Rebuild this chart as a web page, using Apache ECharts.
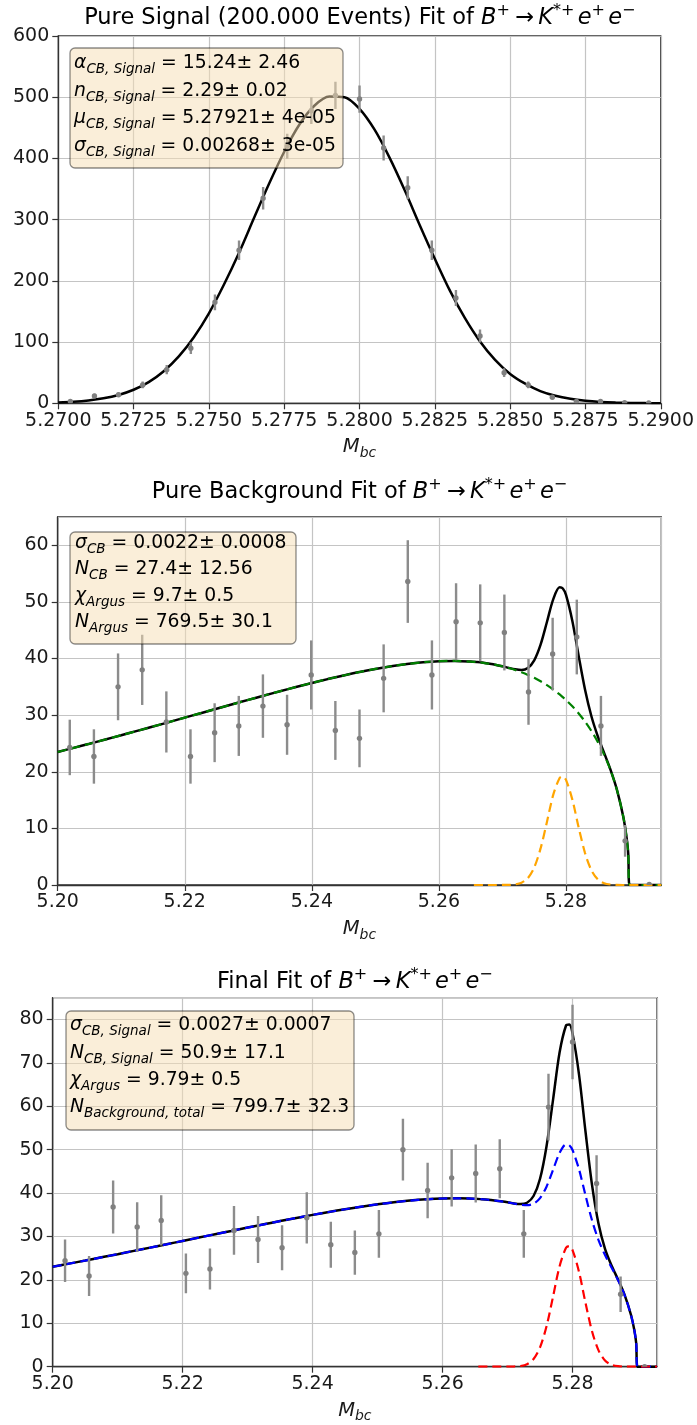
<!DOCTYPE html>
<html><head><meta charset="utf-8">
<script src="https://cdn.jsdelivr.net/npm/echarts@6/dist/echarts.min.js"></script>
<style>html,body{margin:0;padding:0;background:#fff}#c{width:697px;height:1425px}</style>
</head><body><div id="c"></div>
<script>
// ---------- Chart 1: pure signal ----------
const sigX = [5.2704,5.2712,5.2720,5.2728,5.2736,5.2744,5.2752,5.2760,5.2768,5.2776,5.2784,5.2792,5.2800,5.2808,5.2816,5.2824,5.2832,5.2840,5.2848,5.2856,5.2864,5.2872,5.2880,5.2888,5.2896];
const sigY = [3,12,14,30,55,90,165,250,335,420,478,503,497,417,352,250,172,110,50,30,10,3,3,1,0.5];
const sigErr = [1.7,3.5,3.7,5.5,7.4,9.5,12.8,15.8,18.3,20.5,21.9,22.4,22.3,20.4,18.8,15.8,13.1,10.5,7.1,5.5,3.2,1.7,1.7,1.0,0.7];
const sigFitX = [5.2700,5.2705,5.2710,5.2715,5.2720,5.2725,5.2730,5.2735,5.2740,5.2745,5.2750,5.2755,5.2760,5.2765,5.2770,5.2775,5.2780,5.2785,5.2790,5.2795,5.2800,5.2805,5.2810,5.2815,5.2820,5.2825,5.2830,5.2835,5.2840,5.2845,5.2850,5.2855,5.2860,5.2865,5.2870,5.2875,5.2880,5.2885,5.2890,5.2895,5.2900];
const sigFitY = [1.4,2.6,4.7,8.1,13.6,22.1,34.6,52.4,76.6,108,147,194,246,303,359,411,455,486,501,500,481,447,401,348,291,236,184,139,101,71,48,32,20,12.3,7.3,4.2,2.3,1.2,0.6,0.3,0.15];
const sigXTicks = {min:5.2700, max:5.2900, step:0.0025};
const sigYTicks = {min:0, max:600, step:100};

// ---------- Chart 2: pure background ----------
const bkgX = [5.2019,5.2057,5.2095,5.2133,5.2171,5.2209,5.2247,5.2285,5.2323,5.2361,5.2399,5.2437,5.2475,5.2513,5.2551,5.2589,5.2627,5.2665,5.2703,5.2741,5.2779,5.2817,5.2855,5.2893,5.2931];
const bkgY = [24.3,22.7,35.0,38.0,28.8,22.7,26.9,28.1,31.6,28.3,37.1,27.3,25.9,36.5,53.6,37.1,46.5,46.3,44.6,34.1,40.8,43.8,28.1,7.8,0.1];
const bkgErr = [4.9,4.8,5.9,6.2,5.4,4.8,5.2,5.3,5.6,5.3,6.1,5.2,5.1,6.0,7.3,6.1,6.8,6.8,6.7,5.8,6.4,6.6,5.3,2.8,0.3];
const bkgFitX = [5.2000,5.2025,5.2050,5.2075,5.2100,5.2125,5.2150,5.2175,5.2200,5.2225,5.2250,5.2275,5.2300,5.2325,5.2350,5.2375,5.2400,5.2425,5.2450,5.2475,5.2500,5.2525,5.2550,5.2575,5.2600,5.2625,5.2650,5.2660,5.2670,5.2680,5.2690,5.2700,5.2710,5.2720,5.2730,5.2740,5.2750,5.2760,5.2770,5.2780,5.2790,5.2795,5.2800,5.2810,5.2820,5.2830,5.2840,5.2850,5.2860,5.2870,5.2880,5.2890,5.2895,5.2898,5.2900,5.2950];
const bkgArgus = [23.50,24.22,24.95,25.70,26.45,27.22,27.99,28.77,29.56,30.35,31.14,31.92,32.70,33.47,34.23,34.97,35.68,36.37,37.01,37.62,38.16,38.64,39.04,39.34,39.53,39.58,39.47,39.37,39.24,39.07,38.87,38.62,38.32,37.98,37.57,37.11,36.59,35.99,35.31,34.53,33.66,33.18,32.68,31.57,30.30,28.86,27.20,25.28,23.02,20.31,16.88,12.15,8.67,5.51,0,0];
const bkgTotal = [23.50,24.22,24.95,25.70,26.45,27.22,27.99,28.77,29.56,30.35,31.14,31.92,32.70,33.47,34.23,34.97,35.68,36.37,37.01,37.62,38.16,38.64,39.04,39.34,39.53,39.58,39.47,39.37,39.24,39.07,38.87,38.63,38.34,38.09,37.97,38.33,39.68,42.45,46.45,50.49,52.57,52.37,51.24,46.65,40.43,34.50,29.80,26.27,23.33,20.39,16.90,12.15,8.67,5.51,0,0];
const bkgCbX = [5.2655,5.2670,5.2680,5.2690,5.2700,5.2710,5.2720,5.2730,5.2740,5.2750,5.2760,5.2770,5.2780,5.2790,5.2795,5.2800,5.2810,5.2820,5.2830,5.2840,5.2850,5.2860,5.2870,5.2880,5.2890,5.2950];
const bkgCbY = [0,0,0,0,0.01,0.02,0.11,0.40,1.22,3.09,6.46,11.14,15.96,18.91,19.19,18.56,15.08,10.13,5.64,2.60,0.99,0.31,0.08,0.02,0,0];
const bkgXTicks = {min:5.20, max:5.295, step:0.02};
const bkgYTicks = {min:0, max:65, step:10};

// ---------- Chart 3: final fit ----------
const finX = [5.2019,5.2056,5.2093,5.2130,5.2167,5.2205,5.2242,5.2279,5.2316,5.2353,5.2391,5.2428,5.2465,5.2502,5.2539,5.2577,5.2614,5.2651,5.2688,5.2725,5.2763,5.2800,5.2837,5.2874,5.2911];
const finY = [24.4,20.9,36.8,32.2,33.7,21.5,22.5,31.4,29.3,27.4,34.3,28.1,26.3,30.6,50.0,40.6,43.5,44.5,45.6,30.6,59.8,74.8,42.2,16.7,0];
const finErr = [4.9,4.6,6.1,5.7,5.8,4.6,4.7,5.6,5.4,5.2,5.9,5.3,5.1,5.5,7.1,6.4,6.6,6.7,6.8,5.5,7.7,8.6,6.5,4.1,0];
const finFitX = [5.2000,5.2025,5.2050,5.2075,5.2100,5.2125,5.2150,5.2175,5.2200,5.2225,5.2250,5.2275,5.2300,5.2325,5.2350,5.2375,5.2400,5.2425,5.2450,5.2475,5.2500,5.2525,5.2550,5.2575,5.2600,5.2625,5.2650,5.2660,5.2670,5.2680,5.2690,5.2700,5.2710,5.2720,5.2730,5.2740,5.2750,5.2760,5.2770,5.2780,5.2790,5.2795,5.2800,5.2810,5.2820,5.2830,5.2840,5.2850,5.2860,5.2870,5.2880,5.2890,5.2895,5.2898,5.2900,5.2930];
const finBkg = [23.03,23.74,24.45,25.19,25.92,26.68,27.43,28.19,28.97,29.74,30.52,31.28,32.05,32.80,33.55,34.27,34.97,35.64,36.27,36.87,37.40,37.87,38.26,38.55,38.74,38.79,38.68,38.58,38.46,38.29,38.09,37.86,37.57,37.32,37.20,37.55,38.83,41.47,45.34,49.22,51.21,51.01,49.91,45.46,39.45,33.72,29.16,25.72,22.86,19.98,16.56,11.91,8.50,5.40,0,0];
const finTotal = [23.03,23.74,24.45,25.19,25.92,26.68,27.43,28.19,28.97,29.74,30.52,31.28,32.05,32.80,33.55,34.27,34.97,35.64,36.27,36.87,37.40,37.87,38.26,38.55,38.74,38.79,38.68,38.58,38.46,38.29,38.09,37.87,37.61,37.48,37.78,39.32,43.29,50.79,61.47,72.32,78.59,78.80,76.78,67.29,54.12,41.89,32.92,27.15,23.31,20.10,16.59,11.91,8.50,5.40,0,0];
const finSigX = [5.2655,5.2670,5.2680,5.2690,5.2700,5.2710,5.2720,5.2730,5.2740,5.2750,5.2760,5.2770,5.2780,5.2790,5.2795,5.2800,5.2810,5.2820,5.2830,5.2840,5.2850,5.2860,5.2870,5.2880,5.2890,5.2930];
const finSigY = [0,0,0,0,0.01,0.04,0.16,0.58,1.77,4.46,9.32,16.13,23.10,27.38,27.79,26.87,21.83,14.67,8.17,3.76,1.43,0.45,0.12,0.03,0,0];
const finXTicks = {min:5.20, max:5.293, step:0.02};
const finYTicks = {min:0, max:85, step:10};

// ---------- text ----------
const titles = ['Pure Signal (200.000 Events) Fit of ', 'Pure Background Fit of ', 'Final Fit of '];
const boxLines = [
  [['α','CB, Signal',' = 15.24± 2.46'],['n','CB, Signal',' = 2.29± 0.02'],['μ','CB, Signal',' = 5.27921± 4e-05'],['σ','CB, Signal',' = 0.00268± 3e-05']],
  [['σ','CB',' = 0.0022± 0.0008'],['N','CB',' = 27.4± 12.56'],['χ','Argus',' = 9.7± 0.5'],['N','Argus',' = 769.5± 30.1']],
  [['σ','CB, Signal',' = 0.0027± 0.0007'],['N','CB, Signal',' = 50.9± 17.1'],['χ','Argus',' = 9.79± 0.5'],['N','Background, total',' = 799.7± 32.3']]
];

// ---------- layout ----------
const FONT = 'DejaVu Sans';
const TXT = '#1a1a1a';
const TICK_FS = 19;
const grids = [
  {left:58.3, top:36, width:603, height:367.3},
  {left:57.7, top:517, width:603.6, height:368},
  {left:52.7, top:997.7, width:604.3, height:369}
];
const titleY = [18, 492.3, 981.7];
const boxes = [
  {x:70, y:48, w:273, h:120, tx:74, ly:[63.3,90.8,118.3,145.8]},
  {x:70, y:532, w:226, h:112, tx:75, ly:[543.3,569.3,595.7,622.3]},
  {x:66, y:1011, w:288, h:119, tx:70, ly:[1025,1052.7,1080,1107.3]}
];

const chart = echarts.init(document.getElementById('c'), null, {renderer:'canvas'});

function pairs(xs, ys){ return xs.map((x,i)=>[x, ys[i]]); }
function triples(xs, ys, es){ return xs.map((x,i)=>[x, ys[i], es[i]]); }

function errRender(params, api){
  const x=api.value(0), y=api.value(1), e=api.value(2);
  const t=api.coord([x,y+e]), b=api.coord([x,y-e]), c=api.coord([x,y]);
  return {type:'group', children:[
    {type:'line', shape:{x1:t[0],y1:t[1],x2:b[0],y2:b[1]}, style:{stroke:'#8c8c8c', lineWidth:2.4}},
    {type:'circle', shape:{cx:c[0],cy:c[1],r:2.7}, style:{fill:'#808080'}}
  ]};
}

const xt = [sigXTicks, bkgXTicks, finXTicks];
const yt = [sigYTicks, bkgYTicks, finYTicks];
const xdec = [4, 2, 2];

const richName = {
  i:{fontFamily:FONT, fontSize:19.5, fontStyle:'italic', color:TXT, verticalAlign:'middle', lineHeight:26},
  s:{fontFamily:FONT, fontSize:14, fontStyle:'italic', color:TXT, verticalAlign:'bottom', lineHeight:13}
};

const xAxis = xt.map((t,k)=>({
  type:'value', gridIndex:k, min:t.min, max:t.max, interval:t.step,
  name:'{i|M}{s|bc}', nameLocation:'middle', nameGap:31,
  nameTextStyle:{rich:richName},
  axisLine:{show:true, onZero:false, lineStyle:{color:'#333', width:1.3}},
  axisTick:{show:true, inside:false, length:6, lineStyle:{color:'#333', width:1.2}},
  axisLabel:{margin:8, fontFamily:FONT, fontSize:TICK_FS, color:TXT, showMaxLabel: k===0,
    formatter:(v)=>v.toFixed(xdec[k])},
  splitLine:{show:true, lineStyle:{color:'#c4c4c4', width:1.2}}
}));
const yAxis = yt.map((t,k)=>({
  type:'value', gridIndex:k, min:t.min, max:t.max, interval:t.step,
  axisLine:{show:true, lineStyle:{color:'#333', width:1.3}},
  axisTick:{show:true, inside:false, length:6, lineStyle:{color:'#333', width:1.2}},
  axisLabel:{margin:9, fontFamily:FONT, fontSize:TICK_FS, color:TXT, showMaxLabel: k===0,
    formatter:(v)=>String(Math.round(v))},
  splitLine:{show:true, lineStyle:{color:'#c4c4c4', width:1.2}}
}));

function lineS(k, data, color, width, dashed, z){
  return {type:'line', xAxisIndex:k, yAxisIndex:k, data, showSymbol:false, symbol:'none',
    smooth:0.3, silent:true, z,
    lineStyle:{color, width, type: dashed ? [9,5] : 'solid'}};
}
function errS(k, data){
  return {type:'custom', xAxisIndex:k, yAxisIndex:k, data, renderItem:errRender, clip:true, silent:true, z:10};
}

const series = [
  lineS(0, pairs(sigFitX, sigFitY), '#000', 2.5, false, 3),
  errS(0, triples(sigX, sigY, sigErr)),

  lineS(1, pairs(bkgFitX, bkgTotal), '#000', 2.5, false, 3),
  lineS(1, pairs(bkgFitX, bkgArgus), '#008000', 2.2, true, 4),
  lineS(1, pairs(bkgCbX, bkgCbY), '#ffa500', 2.2, true, 4),
  errS(1, triples(bkgX, bkgY, bkgErr)),

  lineS(2, pairs(finFitX, finTotal), '#000', 2.5, false, 3),
  lineS(2, pairs(finFitX, finBkg), '#0000ff', 2.2, true, 4),
  lineS(2, pairs(finSigX, finSigY), '#ff0000', 2.2, true, 4),
  errS(2, triples(finX, finY, finErr))
];

// titles as rich text
const richTitle = {
  n:{fontFamily:FONT, fontSize:22.5, color:TXT, verticalAlign:'middle', lineHeight:30},
  i:{fontFamily:FONT, fontSize:22.5, fontStyle:'italic', color:TXT, verticalAlign:'middle', lineHeight:30},
  p:{fontFamily:FONT, fontSize:16, color:TXT, verticalAlign:'top', lineHeight:16}
};
const mathTitle = '{i|B}{p|+ }{n|→\u2009}{i|K}{p|*+\u2009}{i|e}{p|+\u2009}{i|e}{p|−}';
const richBox = {
  m:{fontFamily:FONT, fontSize:18.8, fontStyle:'italic', color:TXT, verticalAlign:'middle', lineHeight:27},
  s:{fontFamily:FONT, fontSize:13.5, fontStyle:'italic', color:TXT, verticalAlign:'bottom', lineHeight:13},
  n:{fontFamily:FONT, fontSize:18.8, color:TXT, verticalAlign:'middle', lineHeight:27}
};

const graphic = [];
for (let k=0;k<3;k++){
  const g = grids[k];
  graphic.push({type:'text', x:g.left+g.width/2, y:titleY[k], z:50,
    style:{text:'{n|'+titles[k]+'}'+mathTitle, rich:richTitle, align:'center', verticalAlign:'middle'}});
  const b = boxes[k];
  graphic.push({type:'rect', shape:{x:b.x, y:b.y, width:b.w, height:b.h, r:5}, z:50,
    style:{fill:'rgba(245,222,179,0.5)', stroke:'rgba(0,0,0,0.45)', lineWidth:1.3}});
  boxLines[k].forEach((ln,j)=>{
    graphic.push({type:'text', x:b.tx, y:b.ly[j], z:51,
      style:{text:'{m|'+ln[0]+'}{s|'+ln[1]+'}{n|'+ln[2]+'}', rich:richBox, align:'left', verticalAlign:'middle'}});
  });
}

chart.setOption({
  animation:false,
  backgroundColor:'#fff',
  grid: grids.map(g=>({left:g.left, top:g.top, width:g.width, height:g.height, show:true, borderColor:'#333', borderWidth:1.3, backgroundColor:'transparent'})),
  xAxis, yAxis, series, graphic
});
</script></body></html>
